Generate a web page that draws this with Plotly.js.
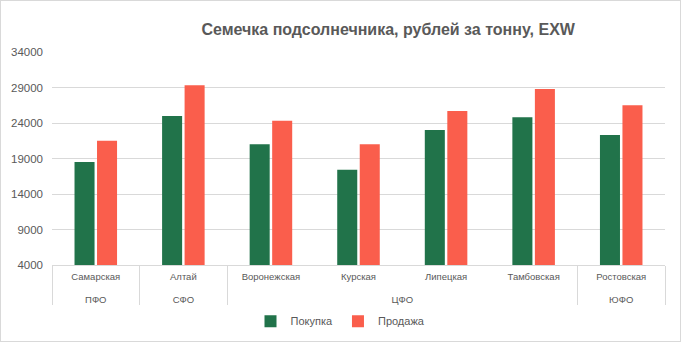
<!DOCTYPE html>
<html><head><meta charset="utf-8">
<script src="https://cdn.plot.ly/plotly-3.0.1.min.js"></script>
<style>html,body{margin:0;padding:0;background:#fff}#c{width:681px;height:342px}#f{position:absolute;left:0;top:0;width:679px;height:340px;border:1px solid #d9d9d9;pointer-events:none}</style>
</head><body><div id="c"></div><div id="f"></div>
<script>
const districts = ["ПФО","СФО","ЦФО","ЦФО","ЦФО","ЦФО","ЮФО"];
const regions = ["Самарская","Алтай","Воронежская","Курская","Липецкая","Тамбовская","Ростовская"];
const buy = [18500, 25000, 21000, 17400, 23000, 24800, 22300];
const sell = [21500, 29300, 24300, 21000, 25700, 28800, 26500];
const yTicks = [4000, 9000, 14000, 19000, 24000, 29000, 34000];
const font = "Liberation Sans, Arial, sans-serif";
const xcats = [districts, regions.map(r => r + "<br> ")];
const data = [
  {type:"bar", name:"Покупка", x:xcats, y:buy, marker:{color:"#21734A"}},
  {type:"bar", name:"Продажа", x:xcats, y:sell, marker:{color:"#FA5E4C"}}
];
const layout = {
  width:681, height:342,
  margin:{l:52, r:16, t:52, b:77},
  paper_bgcolor:"#fff", plot_bgcolor:"#fff",
  font:{family:font, color:"#595959", size:10},
  title:{text:"Семечка подсолнечника, рублей за тонну, EXW", font:{family:font, size:16, color:"#595959", weight:"bold"}, xref:"container", x:0.57, xanchor:"center", yref:"container", y:0.915, yanchor:"middle"},
  barmode:"group", bargap:0.486, bargroupgap:0.11,
  xaxis:{type:"multicategory", showline:true, linecolor:"#d9d9d9", linewidth:1, showgrid:false, ticks:"", showdividers:true, dividercolor:"#d9d9d9", dividerwidth:1, tickfont:{size:9.5, color:"#595959"}, ticklabelstandoff:3},
  yaxis:{range:[4000,34000], tickvals:yTicks, ticktext:yTicks.map(String), showgrid:true, gridcolor:"#d9d9d9", gridwidth:1, zeroline:false, showline:false, tickfont:{size:11.5, color:"#595959"}, ticklabelstandoff:8},
  showlegend:true,
  legend:{orientation:"h", xref:"container", x:0.5, xanchor:"center", yref:"container", y:0.061, yanchor:"middle", font:{size:11, color:"#595959"}, itemwidth:30, traceorder:"normal"},
  annotations:[{text:"IDK.ru", xref:"container", yref:"container", x:10/681, y:1-321/342, xanchor:"left", yanchor:"middle", showarrow:false, font:{family:font, size:22, color:"#111"}}]
};
Plotly.newPlot("c", data, layout, {displayModeBar:false, staticPlot:true});
</script></body></html>
